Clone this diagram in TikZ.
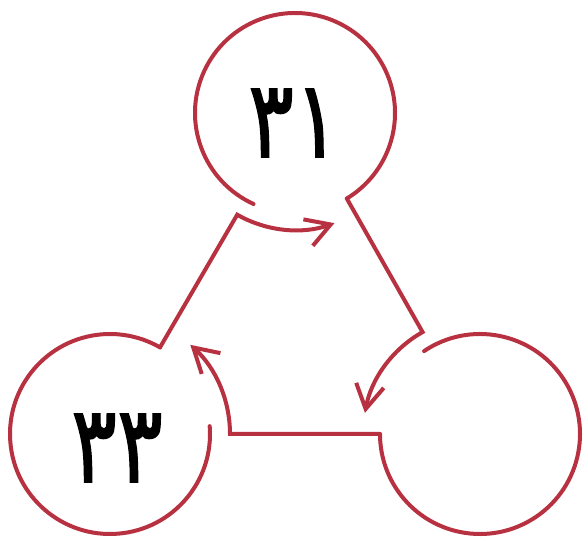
\documentclass[tikz,border=0pt]{standalone}
\usepackage{fontspec}
\newfontfamily\fafont[Script=Arabic,FakeBold=1.3]{DejaVu Sans}
\usetikzlibrary{arrows.meta,calc}
\definecolor{cyc}{RGB}{183,49,64}
\begin{document}
\begin{tikzpicture}[x=1pt,y=1pt,
  ring/.style={circle, minimum size=200pt, inner sep=0pt, outer sep=0pt, draw=none},
  loopline/.style={draw=cyc, line width=4pt, line cap=round, line join=miter},
  link/.style={loopline, -{Straight Barb[length=24pt,width=28pt]}},
  num/.style={font=\fafont\fontsize{90}{90}\selectfont, text=black, inner sep=0pt, yscale=1.2, xscale=0.95}]
\useasboundingbox (0,0) rectangle (584,536);
\node[ring] (t) at (295,423) {};
\node[ring] (bl) at (110,102) {};
\node[ring] (br) at (480,102) {};
\node[num] (tl) at (294,413) {۳۱};
\node[num] (bll) at (117,88) {۳۳};
% circle arcs
\draw[loopline] ($(t)+(245.5:100pt)$) arc[start angle=245.5,end angle=-58.8,radius=100pt];
\draw[loopline] ($(br)+(124:100pt)$) arc[start angle=124,end angle=-180,radius=100pt];
\draw[loopline] ($(bl)+(4.5:100pt)$) arc[start angle=4.5,end angle=-300,radius=100pt];
% connectors
\draw[link] ($(t)+(-58.8:100pt)$) -- ($(br)+(119.4:117pt)$) arc[start angle=119.4,end angle=169.6,radius=117pt];
\draw[link] ($(br)+(180:100pt)$) -- ($(bl)+(0:120pt)$) arc[start angle=0,end angle=48,radius=120pt];
\draw[link] ($(bl)+(60:100pt)$) -- ($(t)+(240.4:117pt)$) arc[start angle=240.4,end angle=289.7,radius=117pt];
\end{tikzpicture}
\end{document}
